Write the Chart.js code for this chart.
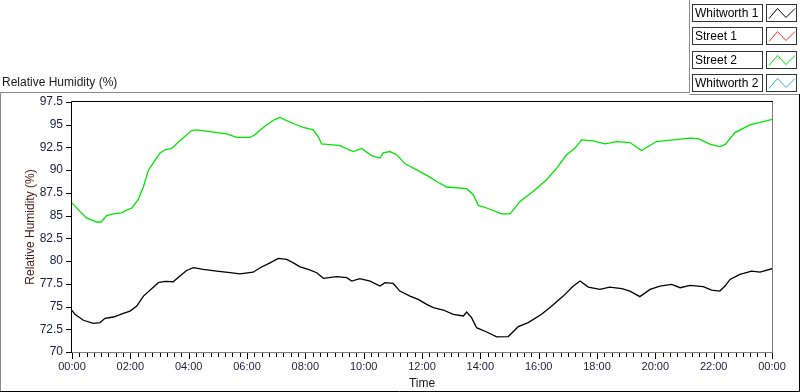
<!DOCTYPE html>
<html>
<head>
<meta charset="utf-8">
<script src="https://cdn.jsdelivr.net/npm/chart.js@4/dist/chart.umd.min.js"></script>
<style>
  html, body { margin: 0; padding: 0; background: #ffffff; }
  #wrap { width: 800px; height: 392px; position: relative; }
</style>
</head>
<body>
<div id="wrap"><canvas id="c" width="800" height="392"></canvas></div>
<script>
// ---- data (time in hours since 00:00, values in %RH) ----
const seriesNames = ['Whitworth 1', 'Street 1', 'Street 2', 'Whitworth 2'];
const seriesColors = ['#000000', '#ff3030', '#00e600', '#30aaff'];

const whitworth1Times = [0, 0.1, 0.39, 0.73, 0.96, 1.13, 1.42, 1.76, 1.99, 2.22, 2.45, 2.73, 2.96, 3.19, 3.47, 3.7, 3.93, 4.16, 4.5, 4.96, 5.42, 5.76, 6.21, 6.45, 6.79, 7.07, 7.36, 7.59, 7.82, 8.1, 8.39, 8.62, 9.07, 9.42, 9.59, 9.87, 10.22, 10.56, 10.73, 11.01, 11.24, 11.59, 11.87, 12.16, 12.39, 12.73, 13.07, 13.42, 13.53, 13.7, 13.87, 14.22, 14.56, 14.96, 15.3, 15.64, 16.1, 16.45, 16.84, 17.19, 17.42, 17.7, 18.1, 18.44, 18.85, 19.13, 19.47, 19.82, 20.16, 20.56, 20.85, 21.19, 21.64, 21.93, 22.21, 22.39, 22.56, 22.9, 23.3, 23.59, 24];
const whitworth1 = [74.58, 74.15, 73.49, 73.16, 73.23, 73.7, 73.85, 74.25, 74.5, 75.05, 76.15, 76.96, 77.62, 77.76, 77.73, 78.35, 78.97, 79.27, 79.08, 78.9, 78.72, 78.6, 78.78, 79.27, 79.81, 80.29, 80.18, 79.81, 79.37, 79.08, 78.72, 78.1, 78.28, 78.17, 77.8, 78.06, 77.8, 77.25, 77.62, 77.54, 76.7, 76.15, 75.79, 75.24, 74.88, 74.62, 74.15, 73.96, 74.4, 73.78, 72.68, 72.2, 71.66, 71.7, 72.8, 73.23, 74.15, 75.05, 76.15, 77.25, 77.8, 77.14, 76.89, 77.14, 76.96, 76.7, 76.09, 76.89, 77.25, 77.43, 77.07, 77.32, 77.18, 76.81, 76.7, 77.25, 77.98, 78.53, 78.9, 78.78, 79.16];

const street2Times = [0, 0.27, 0.5, 0.85, 1.0, 1.19, 1.42, 1.7, 1.87, 2.05, 2.27, 2.45, 2.62, 2.85, 3.02, 3.19, 3.42, 3.65, 3.87, 4.1, 4.27, 4.73, 5.3, 5.65, 6.1, 6.27, 6.45, 6.67, 6.96, 7.13, 7.36, 7.65, 7.93, 8.27, 8.44, 8.56, 8.85, 9.19, 9.64, 9.93, 10.27, 10.56, 10.67, 10.9, 11.13, 11.42, 11.82, 12.27, 12.5, 12.85, 13.53, 13.76, 13.93, 14.22, 14.73, 15.02, 15.36, 15.81, 16.27, 16.62, 16.96, 17.24, 17.47, 17.87, 18.27, 18.67, 19.13, 19.53, 20.04, 20.61, 21.19, 21.47, 21.87, 22.21, 22.39, 22.73, 23.24, 23.7, 24];
const street2 = [86.4, 85.47, 84.75, 84.3, 84.3, 85.0, 85.2, 85.3, 85.6, 85.84, 86.75, 88.2, 90.0, 91.1, 91.9, 92.24, 92.4, 93.1, 93.7, 94.35, 94.43, 94.25, 94.0, 93.6, 93.6, 93.9, 94.43, 94.98, 95.6, 95.8, 95.45, 95.05, 94.7, 94.43, 93.7, 92.9, 92.8, 92.7, 92.05, 92.4, 91.6, 91.33, 91.9, 92.05, 91.7, 90.7, 90.04, 89.24, 88.76, 88.15, 87.96, 87.3, 86.13, 85.84, 85.19, 85.2, 86.57, 87.66, 88.95, 90.23, 91.69, 92.42, 93.33, 93.22, 92.9, 93.15, 93.04, 92.16, 93.15, 93.33, 93.52, 93.48, 92.86, 92.6, 92.8, 94.13, 94.98, 95.34, 95.6];

const street1Times = [];
const street1 = [];
const whitworth2Times = [];
const whitworth2 = [];

const yMin = 70, yMax = 97.5, yStep = 2.5;
const xMin = 0, xMax = 24, xStep = 2, xMinorStep = 0.25;

// ---- build ----
function pts(ts, vs) { return ts.map((t, i) => ({ x: t, y: vs[i] })); }
const allTimes = [whitworth1Times, street1Times, street2Times, whitworth2Times];
const allValues = [whitworth1, street1, street2, whitworth2];

const FONT = "'Liberation Sans', Arial, sans-serif";
const TICK_COLOR = '#1c1c3c';

function hhmm(v) {
  const h = Math.round(v) % 24;
  return (h < 10 ? '0' : '') + h + ':00';
}

const framePlugin = {
  id: 'frame',
  beforeDraw(chart) {
    const ctx = chart.ctx;
    ctx.save();
    ctx.fillStyle = '#ffffff';
    ctx.fillRect(0, 0, chart.width, chart.height);
    ctx.restore();
  },
  afterDraw(chart) {
    const ctx = chart.ctx;
    const a = chart.chartArea;
    const xs = chart.scales.x, ys = chart.scales.y;
    ctx.save();
    ctx.lineWidth = 1;
    // plot border: top/left black, right/bottom gray
    ctx.strokeStyle = '#808080';
    ctx.beginPath();
    ctx.moveTo(a.right + 0.5, a.top);
    ctx.lineTo(a.right + 0.5, a.bottom + 1);
    ctx.moveTo(a.left, a.bottom + 0.5);
    ctx.lineTo(a.right + 1, a.bottom + 0.5);
    ctx.stroke();
    ctx.strokeStyle = '#000000';
    ctx.beginPath();
    ctx.moveTo(a.left - 0.5, a.bottom + 1);
    ctx.lineTo(a.left - 0.5, a.top - 0.5);
    ctx.lineTo(a.right + 1, a.top - 0.5);
    ctx.stroke();
    // y ticks
    ctx.beginPath();
    ys.ticks.forEach(t => {
      const py = Math.round(ys.getPixelForValue(t.value)) + 0.5;
      ctx.moveTo(a.left - 6, py);
      ctx.lineTo(a.left, py);
    });
    // x ticks (major + minor)
    const nMinor = Math.round((xMax - xMin) / xMinorStep);
    for (let i = 0; i <= nMinor; i++) {
      const v = xMin + i * xMinorStep;
      const px = Math.round(xs.getPixelForValue(v)) + 0.5;
      const major = (i % Math.round(xStep / xMinorStep)) === 0;
      ctx.moveTo(px, a.bottom + 1);
      ctx.lineTo(px, a.bottom + (major ? 7 : 5));
    }
    ctx.stroke();

    // outer frame
    ctx.strokeStyle = '#8a8a8a';
    ctx.beginPath();
    ctx.moveTo(0.5, 392);
    ctx.lineTo(0.5, 92.5);
    ctx.lineTo(689.5, 92.5);
    ctx.lineTo(689.5, 0);
    ctx.moveTo(689.5, 94.5);
    ctx.lineTo(799, 94.5);
    ctx.stroke();
    ctx.strokeStyle = '#000000';
    ctx.beginPath();
    ctx.moveTo(799.5, 94);
    ctx.lineTo(799.5, 391.5);
    ctx.lineTo(0, 391.5);
    ctx.stroke();

    // legend
    ctx.font = '12px ' + FONT;
    ctx.textBaseline = 'middle';
    ctx.textAlign = 'left';
    chart.data.datasets.forEach((ds, i) => {
      const top = 3.5 + i * 23.5;
      const by = Math.round(top) + 0.5;
      ctx.fillStyle = '#ffffff';
      ctx.fillRect(692, by, 70, 17);
      ctx.fillRect(767, by, 30, 17);
      ctx.strokeStyle = '#333333';
      ctx.lineWidth = 1;
      ctx.strokeRect(692.5, by, 70, 17);
      ctx.strokeRect(766.5, by, 30, 17);
      ctx.fillStyle = '#000000';
      ctx.fillText(ds.label, 695, by + 9);
      ctx.strokeStyle = ds.borderColor;
      ctx.beginPath();
      ctx.moveTo(769, by + 14);
      ctx.lineTo(777.5, by + 4);
      ctx.lineTo(786, by + 13);
      ctx.lineTo(795, by + 4);
      ctx.stroke();
    });
    ctx.restore();
  }
};

new Chart(document.getElementById('c'), {
  type: 'line',
  data: {
    datasets: seriesNames.map((name, i) => ({
      label: name,
      data: pts(allTimes[i], allValues[i]),
      borderColor: seriesColors[i],
      backgroundColor: seriesColors[i],
      borderWidth: 1.3,
      pointRadius: 0,
      tension: 0,
      fill: false
    }))
  },
  options: {
    responsive: false,
    animation: false,
    devicePixelRatio: 1,
    layout: { padding: { left: 2, right: 28, top: 0, bottom: 0 } },
    plugins: {
      legend: { display: false },
      tooltip: { enabled: false },
      title: {
        display: true,
        text: 'Relative Humidity (%)',
        align: 'start',
        color: '#1a1a1a',
        font: { family: FONT, size: 12, weight: 'normal' },
        padding: { top: 75, bottom: 12.6 }
      }
    },
    scales: {
      x: {
        type: 'linear',
        min: xMin, max: xMax,
        afterFit: s => { s.height = 40; },
        grid: { display: false, drawTicks: false },
        border: { display: false },
        ticks: {
          stepSize: xStep,
          autoSkip: false,
          maxRotation: 0,
          padding: 8,
          color: TICK_COLOR,
          font: { family: FONT, size: 11 },
          callback: v => hhmm(v)
        },
        title: {
          display: true,
          text: 'Time',
          color: '#1a1a1a',
          font: { family: FONT, size: 12 },
          padding: { top: 0, bottom: 1 }
        }
      },
      y: {
        min: yMin, max: yMax,
        afterFit: s => { s.width = 70; },
        grid: { display: false, drawTicks: false },
        border: { display: false },
        ticks: {
          stepSize: yStep,
          padding: 9,
          color: TICK_COLOR,
          font: { family: FONT, size: 12 },
          callback: v => (Number.isInteger(v) ? String(v) : v.toFixed(1))
        },
        title: {
          display: true,
          text: 'Relative Humidity (%)',
          color: '#4a1414',
          font: { family: FONT, size: 12 },
          padding: { top: 21, bottom: 0 }
        }
      }
    }
  },
  plugins: [framePlugin]
});
</script>
</body>
</html>
